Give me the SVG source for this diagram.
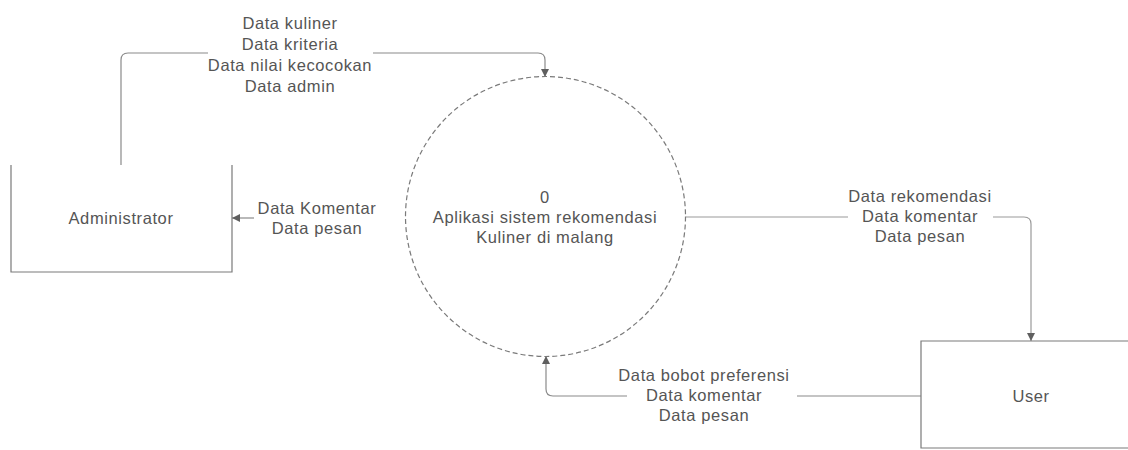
<svg xmlns="http://www.w3.org/2000/svg" width="1128" height="450" viewBox="0 0 1128 450">
  <defs>
    <marker id="arrow" viewBox="0 0 10 10" refX="10" refY="5" markerWidth="8" markerHeight="8" markerUnits="userSpaceOnUse" orient="auto">
      <path d="M0,0 L10,5 L0,10 z" fill="#5f5f5f"/>
    </marker>
    <style>
      .box { fill: #ffffff; stroke: #7a7a7a; stroke-width: 1.2; }
      .proc { fill: #ffffff; stroke: #7a7a7a; stroke-width: 1.2; stroke-dasharray: 5 3; }
      .flow { fill: none; stroke: #8a8a8a; stroke-width: 1.2; marker-end: url(#arrow); }
      .lbl-bg { fill: #ffffff; }
      text { font-family: "Liberation Sans", Arial, sans-serif; font-size: 16.5px; fill: #555555; text-anchor: middle; letter-spacing: 0.6px; }
    </style>
  </defs>
  <rect width="1128" height="450" fill="#ffffff"/>

  <!-- data flows -->
  <g id="connectors">
    <!-- Administrator -> process -->
    <path class="flow" d="M121,165 V60 Q121,53 128,53 H538 Q545,53 545,60 V77"/>
    <rect class="lbl-bg" x="208" y="12" width="165" height="86"/>
    <text x="290" y="29">Data kuliner</text>
    <text x="290" y="50">Data kriteria</text>
    <text x="290" y="71">Data nilai kecocokan</text>
    <text x="290" y="92">Data admin</text>

    <!-- process -> Administrator -->
    <path class="flow" d="M254,218 H232"/>
    <text x="317" y="214">Data Komentar</text>
    <text x="317" y="234">Data pesan</text>

    <!-- process -> User -->
    <path class="flow" d="M686,217 H1024 Q1031,217 1031,224 V341" style="stroke:#9a9a9a"/>
    <rect class="lbl-bg" x="848" y="184" width="145" height="62"/>
    <text x="920" y="202">Data rekomendasi</text>
    <text x="920" y="222">Data komentar</text>
    <text x="920" y="242">Data pesan</text>

    <!-- User -> process -->
    <path class="flow" d="M921,396 H553 Q546,396 546,389 V356"/>
    <rect class="lbl-bg" x="627" y="364" width="170" height="62"/>
    <text x="704" y="381">Data bobot preferensi</text>
    <text x="704" y="401">Data komentar</text>
    <text x="704" y="421">Data pesan</text>
  </g>

  <g id="node-administrator">
    <path class="box" d="M11,165 V272 H232 V165"/>
    <text x="121" y="224">Administrator</text>
  </g>

  <g id="node-process">
    <circle class="proc" cx="545.5" cy="216.5" r="140"/>
    <text x="545" y="203">0</text>
    <text x="545" y="223">Aplikasi sistem rekomendasi</text>
    <text x="545" y="243">Kuliner di malang</text>
  </g>

  <g id="node-user">
    <path class="box" d="M1140,341 H921 V448 H1140"/>
    <text x="1031" y="402">User</text>
  </g>
</svg>
